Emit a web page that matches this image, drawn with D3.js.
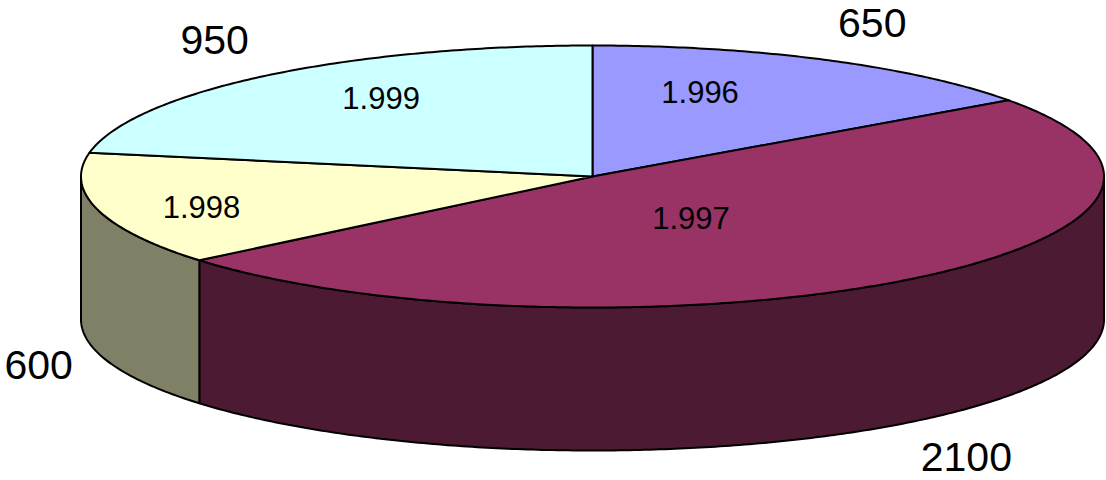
<!DOCTYPE html>
<html>
<head>
<meta charset="utf-8">
<script src="https://cdn.jsdelivr.net/npm/d3@7"></script>
<style>
  body { margin: 0; background: #fff; }
  svg { display: block; }
  text { font-family: "Liberation Sans", Arial, sans-serif; fill: #000; }
</style>
</head>
<body>
<svg id="chart" width="1106" height="480"></svg>
<script>
// Chart data
const categories = ['1.996', '1.997', '1.998', '1.999'];
const values = [650, 2100, 600, 950];
const topColors = ['#9999FF', '#993366', '#FFFFCC', '#CCFFFF'];

const width = 1106, height = 480;
const cx = 592.5, cy = 176.5;   // centre of the top face
const rx = 511.5, ry = 131;     // ellipse radii
const depth = 143;              // thickness of the pie

// where the category names sit inside each slice (fraction of radius along the mid angle)
const innerLabelPull = [[0.46, 0.725], [0.315, 0.40], [0.79, 0.93], [0.646, 0.78]];

const svg = d3.select('#chart');

const slices = d3.pie().sort(null).value(d => d.value)(
    values.map((v, i) => ({ value: v, name: categories[i], color: topColors[i] }))
);

function pt(a, yOff) {
    return [cx + rx * Math.sin(a), cy + (yOff || 0) - ry * Math.cos(a)];
}

function arcPoints(a0, a1, yOff) {
    const n = Math.max(8, Math.ceil((a1 - a0) / 0.01));
    return d3.range(n + 1).map(i => pt(a0 + (a1 - a0) * i / n, yOff));
}

const line = d3.line();
const midAngle = s => (s.startAngle + s.endAngle) / 2;

function sideColor(c) {
    const rgb = d3.rgb(c);
    return d3.rgb(rgb.r / 2, rgb.g / 2, rgb.b / 2).formatHex();
}

// Side walls (only the front half is visible)
const walls = svg.append('g');
slices.forEach(s => {
    const a0 = Math.max(s.startAngle, Math.PI / 2);
    const a1 = Math.min(s.endAngle, Math.PI * 1.5);
    if (a1 <= a0) return;
    const pts = arcPoints(a0, a1, 0).concat(arcPoints(a0, a1, depth).reverse());
    walls.append('path')
        .attr('d', line(pts) + 'Z')
        .attr('fill', sideColor(s.data.color))
        .attr('stroke', '#000')
        .attr('stroke-width', 2)
        .attr('stroke-linejoin', 'round');
});

// Top faces
svg.append('g')
    .selectAll('path')
    .data(slices)
    .enter().append('path')
    .attr('d', s => line([[cx, cy]].concat(arcPoints(s.startAngle, s.endAngle, 0))) + 'Z')
    .attr('fill', s => s.data.color)
    .attr('stroke', '#000')
    .attr('stroke-width', 2)
    .attr('stroke-linejoin', 'round');

// Category names inside the slices
svg.append('g')
    .selectAll('text')
    .data(slices)
    .enter().append('text')
    .attr('x', (s, i) => cx + rx * innerLabelPull[i][0] * Math.sin(midAngle(s)))
    .attr('y', (s, i) => cy - ry * innerLabelPull[i][1] * Math.cos(midAngle(s)))
    .attr('dy', '0.36em')
    .attr('text-anchor', 'middle')
    .attr('font-size', '31px')
    .text(s => s.data.name);

// Values outside the pie, kept inside the picture
const outerSize = 41;
svg.append('g')
    .selectAll('text')
    .data(slices)
    .enter().append('text')
    .attr('x', s => cx + rx * 1.05 * Math.sin(midAngle(s)))
    .attr('y', s => {
        const a = midAngle(s);
        const base = Math.cos(a) > 0 ? cy : cy + depth;
        const baseline = base - ry * 1.36 * Math.cos(a) + 0.36 * outerSize;
        return Math.max(0.91 * outerSize, Math.min(height - 0.22 * outerSize, baseline));
    })
    .attr('text-anchor', s => Math.sin(midAngle(s)) >= 0 ? 'start' : 'end')
    .attr('font-size', outerSize + 'px')
    .text(s => s.data.value);
</script>
</body>
</html>
